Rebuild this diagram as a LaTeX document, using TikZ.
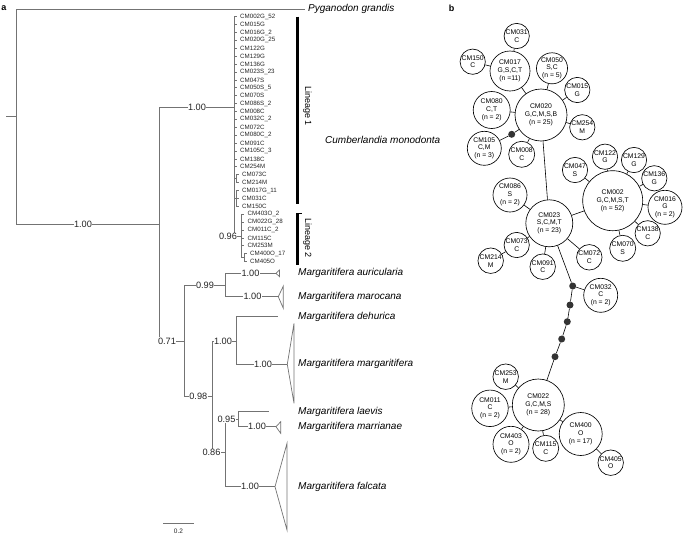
\documentclass[tikz,border=0pt]{standalone}
\usepackage{fontspec}
\setmainfont{Liberation Sans}
\begin{document}
\begin{tikzpicture}[x=1pt,y=-1pt,
  br/.style={draw=black!55, line width=0.7pt},
  sup/.style={fill=white, inner sep=0.4pt, font=\fontsize{9.2}{10}\selectfont, text=black!85},
  leaf/.style={anchor=west, inner xsep=3.5pt, inner ysep=0pt, font=\fontsize{6.2}{7}\selectfont, text=black!85},
  sp/.style={anchor=west, inner sep=0pt, font=\fontsize{10}{12}\selectfont\itshape},
  lin/.style={inner sep=0pt, rotate=-90, font=\fontsize{9}{10}\selectfont},
  bar/.style={draw=black, line width=2.6pt},
  panel/.style={inner sep=0pt, font=\fontsize{9}{10}\selectfont\bfseries},
  hap/.style={circle, draw, line width=0.65pt, inner sep=0pt, align=center, font=\fontsize{6.8}{7.9}\selectfont},
  dotn/.style={circle, fill=black!80, inner sep=0pt, minimum size=7pt},
  lk/.style={draw, line width=0.6pt}]
\useasboundingbox (0,0) rectangle (685,536);

% ---------------- panel labels
\node[panel] (pa) at (4,8) {a};
\node[panel] (pb) at (451.7,8) {b};

% ---------------- tree: internal nodes
\coordinate (stub) at (6,116.7);
\coordinate (root) at (16,116.7);
\coordinate (pyg) at (305,9.3);
\coordinate (ing) at (159.5,224);
\coordinate (cumb) at (234,107);
\coordinate (cumbtop) at (234,16.7);
\coordinate (cumbbot) at (234,236);
\coordinate (lin2) at (241.5,236);
\coordinate (n071) at (184,341);
\coordinate (n099) at (225,285);
\coordinate (aur) at (276,273.3);
\coordinate (mar) at (278.3,296.7);
\coordinate (n098) at (212,396.7);
\coordinate (n100) at (236,341);
\coordinate (deh) at (278.3,316.7);
\coordinate (mgt) at (287.3,364.3);
\coordinate (n086) at (225,452.7);
\coordinate (n095) at (238.3,419);
\coordinate (lae) at (269.3,411.7);
\coordinate (mrr) at (276,426.7);
\coordinate (fal) at (275,486.7);

\draw[br] (stub) -- (root);
\draw[br] (root) |- (pyg);
\draw[br] (root) |- (ing);
\draw[br] (ing) |- (cumb);
\draw[br] (ing) |- (n071);
\draw[br] (cumbtop) -- (cumbbot);
\draw[br] (cumbbot) -- (lin2);
\draw[br] (n071) |- (n099);
\draw[br] (n071) |- (n098);
\draw[br] (n099) |- (aur);
\draw[br] (n099) |- (mar);
\draw[br] (n098) |- (n100);
\draw[br] (n098) |- (n086);
\draw[br] (n100) |- (deh);
\draw[br] (n100) |- (mgt);
\draw[br] (n086) |- (n095);
\draw[br] (n086) |- (fal);
\draw[br] (n095) |- (lae);
\draw[br] (n095) |- (mrr);

% collapsed clades
\draw[br] (aur) -- (279.5,270) -- (279.5,276.7) -- cycle;
\draw[br] (mar) -- (283.3,286) -- (283.3,308.3) -- cycle;
\draw[br] (mgt) -- (294,323.3) -- (294,403.3) -- cycle;
\draw[br] (mrr) -- (280.7,421.7) -- (280.7,433.3) -- cycle;
\draw[br] (fal) -- (287,443.3) -- (287,530) -- cycle;

% ---------------- leaves of Cumberlandia
\foreach \t [count=\i from 0] in {CM002G\_52,CM015G,CM016G\_2,CM020G\_25,CM122G,CM129G,CM136G,CM023S\_23,CM047S,CM050S\_5,CM070S,CM086S\_2,CM008C,CM032C\_2,CM072C,CM080C\_2,CM091C,CM105C\_3,CM138C,CM254M}{
  \node[leaf] (l\i) at (236.5,{16.7+7.9*\i}) {\t};
  \draw[br] (234,{16.7+7.9*\i}) -- (l\i.west);
}
% sub-bracket CM073C / CM214M
\coordinate (sb1) at (236,178.65);
\draw[br] (234,178.65) -- (sb1);
\draw[br] (236,174.7) -- (236,182.6);
\foreach \t [count=\i from 20] in {CM073C,CM214M}{
  \node[leaf] (l\i) at (238.5,{16.7+7.9*\i}) {\t};
  \draw[br] (236,{16.7+7.9*\i}) -- (l\i.west);
}
% sub-bracket CM017G_11 / CM031C / CM150C
\coordinate (sb2) at (236,198.4);
\draw[br] (234,198.4) -- (sb2);
\draw[br] (236,190.5) -- (236,206.3);
\foreach \t [count=\i from 22] in {CM017G\_11,CM031C,CM150C}{
  \node[leaf] (l\i) at (238.5,{16.7+7.9*\i}) {\t};
  \draw[br] (236,{16.7+7.9*\i}) -- (l\i.west);
}
% lineage 2
\draw[br] (241.5,214.2) -- (241.5,257.65);
\foreach \t [count=\i from 25] in {CM403O\_2,CM022G\_28,CM011C\_2,CM115C,CM253M}{
  \node[leaf] (l\i) at (244,{16.7+7.9*\i}) {\t};
  \draw[br] (241.5,{16.7+7.9*\i}) -- (l\i.west);
}
\coordinate (sb3) at (244,257.65);
\draw[br] (241.5,257.65) -- (sb3);
\draw[br] (244,253.7) -- (244,261.6);
\foreach \t [count=\i from 30] in {CM400O\_17,CM405O}{
  \node[leaf] (l\i) at (246.5,{16.7+7.9*\i}) {\t};
  \draw[br] (244,{16.7+7.9*\i}) -- (l\i.west);
}

% lineage bars
\draw[bar] (297.5,16.7) -- (297.5,204);
\draw[bar] (297.5,213) -- (297.5,265);
\draw[draw=black, line width=0.7pt] (297.5,213.3) -- (302,213.3);
\node[lin] (lin1t) at (307.5,106) {Lineage 1};
\node[lin] (lin2t) at (307.5,238) {Lineage 2};

% species
\node[sp] (tpyg) at (308,9) {Pyganodon grandis};
\node[sp] (tcum) at (325,140) {Cumberlandia monodonta};
\node[sp] (taur) at (298,273.3) {Margaritifera auricularia};
\node[sp] (tmar) at (298,296.7) {Margaritifera marocana};
\node[sp] (tdeh) at (298,316.7) {Margaritifera dehurica};
\node[sp] (tmgt) at (298,364.3) {Margaritifera margaritifera};
\node[sp] (tlae) at (298,411.7) {Margaritifera laevis};
\node[sp] (tmrr) at (298,426.7) {Margaritifera marrianae};
\node[sp] (tfal) at (298,486.7) {Margaritifera falcata};

% support values
\node[sup] (s1) at (83,224) {1.00};
\node[sup] (s2) at (197,107) {1.00};
\node[sup] (s3) at (228,236.3) {0.96};
\node[sup] (s4) at (167,341) {0.71};
\node[sup] (s5) at (205,285) {0.99};
\node[sup] (s6) at (250.5,273.3) {1.00};
\node[sup] (s7) at (252.5,296.7) {1.00};
\node[sup] (s8) at (198.3,396.7) {0.98};
\node[sup] (s9) at (223,341) {1.00};
\node[sup] (s10) at (263,364.3) {1.00};
\node[sup] (s11) at (211.5,452.7) {0.86};
\node[sup] (s12) at (226.5,419.3) {0.95};
\node[sup] (s13) at (257,426.7) {1.00};
\node[sup] (s14) at (250,486.7) {1.00};

% scale bar
\coordinate (sca) at (163.3,523.7);
\coordinate (scb) at (194,523.7);
\draw[br] (sca) -- (scb);
\node[inner sep=0pt, font=\fontsize{6.5}{7}\selectfont, text=black!85] (sct) at (178.5,531) {0.2};

% ---------------- haplotype network
\node[hap, minimum size=25pt] (c031) at (516.7,36) {CM031\\C};
\node[hap, minimum size=24pt] (c150) at (472.7,61.7) {CM150\\C};
\node[hap, minimum size=40pt] (c017) at (510,71) {CM017\\G,S,C,T\\(n =11)};
\node[hap, minimum size=30pt] (c050) at (552,68.3) {CM050\\S,C\\(n = 5)};
\node[hap, minimum size=25pt] (c015) at (577.3,90) {CM015\\G};
\node[hap, minimum size=37pt] (c080) at (491.7,110) {CM080\\C,T\\(n = 2)};
\node[hap, minimum size=52pt] (c020) at (541,115) {CM020\\G,C,M,S,B\\(n = 25)};
\node[hap, minimum size=25pt] (c254) at (582.3,127.3) {CM254\\M};
\node[dotn] (d0) at (511.7,134.3) {};
\node[hap, minimum size=34pt] (c105) at (484.3,148.3) {CM105\\C,M\\(n = 3)};
\node[hap, minimum size=26pt] (c008) at (521.7,154.3) {CM008\\C};
\node[hap, minimum size=25pt] (c122) at (605,156.7) {CM122\\G};
\node[hap, minimum size=25pt] (c129) at (634,160) {CM129\\G};
\node[hap, minimum size=25pt] (c136) at (654.3,178.3) {CM136\\G};
\node[hap, minimum size=25pt] (c047) at (575,170) {CM047\\S};
\node[hap, minimum size=60pt] (c002) at (612.7,200.7) {CM002\\G,C,M,S,T\\(n = 52)};
\node[hap, minimum size=34pt] (c016) at (665,207.3) {CM016\\G\\(n = 2)};
\node[hap, minimum size=34pt] (c086) at (510,195) {CM086\\S\\(n = 2)};
\node[hap, minimum size=47pt] (c023) at (549.3,223.3) {CM023\\S,C,M,T\\(n = 23)};
\node[hap, minimum size=25pt] (c138) at (647.7,233.3) {CM138\\C};
\node[hap, minimum size=26pt] (c070) at (622.7,248.3) {CM070\\S};
\node[hap, minimum size=25pt] (c073) at (516.7,245) {CM073\\C};
\node[hap, minimum size=25.5pt] (c214) at (490.7,260.7) {CM214\\M};
\node[hap, minimum size=25.5pt] (c072) at (589.3,257.3) {CM072\\C};
\node[hap, minimum size=25.5pt] (c091) at (542.7,266.7) {CM091\\C};
\node[hap, minimum size=34pt] (c032) at (600.7,295.3) {CM032\\C\\(n = 2)};
\node[dotn] (d1) at (572.7,286) {};
\node[dotn] (d2) at (570,305) {};
\node[dotn] (d3) at (567.3,321.7) {};
\node[dotn] (d4) at (561.7,339) {};
\node[dotn] (d5) at (555,356.7) {};
\node[hap, minimum size=25.5pt] (c253) at (505.7,376.7) {CM253\\M};
\node[hap, minimum size=52pt] (c022) at (538.3,405) {CM022\\G,C,M,S\\(n = 28)};
\node[hap, minimum size=36.5pt] (c011) at (490,408.3) {CM011\\C\\(n = 2)};
\node[hap, minimum size=43pt] (c400) at (580.7,434) {CM400\\O\\(n = 17)};
\node[hap, minimum size=36pt] (c403) at (511,444.3) {CM403\\O\\(n = 2)};
\node[hap, minimum size=26pt] (c115) at (545.7,448.3) {CM115\\C};
\node[hap, minimum size=25.5pt] (c405) at (610.7,462.7) {CM405\\O};

% links
\draw[lk] (c017) -- (c031);
\draw[lk] (c017) -- (c150);
\draw[lk] (c020) -- (c017);
\draw[lk] (c020) -- (c050);
\draw[lk] (c020) -- (c015);
\draw[lk] (c020) -- (c080);
\draw[lk] (c020) -- (c254);
\draw[lk] (c020) -- (c008);
\draw[lk] (c020) -- (d0);
\draw[lk] (d0) -- (c105);
\draw[lk] (c020) -- (c023);
\draw[lk] (c023) -- (c086);
\draw[lk] (c023) -- (c073);
\draw[lk] (c073) -- (c214);
\draw[lk] (c023) -- (c091);
\draw[lk] (c023) -- (c072);
\draw[lk] (c023) -- (c002);
\draw[lk] (c002) -- (c047);
\draw[lk] (c002) -- (c122);
\draw[lk] (c002) -- (c129);
\draw[lk] (c002) -- (c136);
\draw[lk] (c002) -- (c016);
\draw[lk] (c002) -- (c138);
\draw[lk] (c002) -- (c070);
\draw[lk] (c023) -- (d1);
\draw[lk] (d1) -- (c032);
\draw[lk] (d1) -- (d2);
\draw[lk] (d2) -- (d3);
\draw[lk] (d3) -- (d4);
\draw[lk] (d4) -- (d5);
\draw[lk] (d5) -- (c022);
\draw[lk] (c022) -- (c253);
\draw[lk] (c022) -- (c011);
\draw[lk] (c022) -- (c403);
\draw[lk] (c022) -- (c115);
\draw[lk] (c022) -- (c400);
\draw[lk] (c400) -- (c405);
\end{tikzpicture}
\end{document}
